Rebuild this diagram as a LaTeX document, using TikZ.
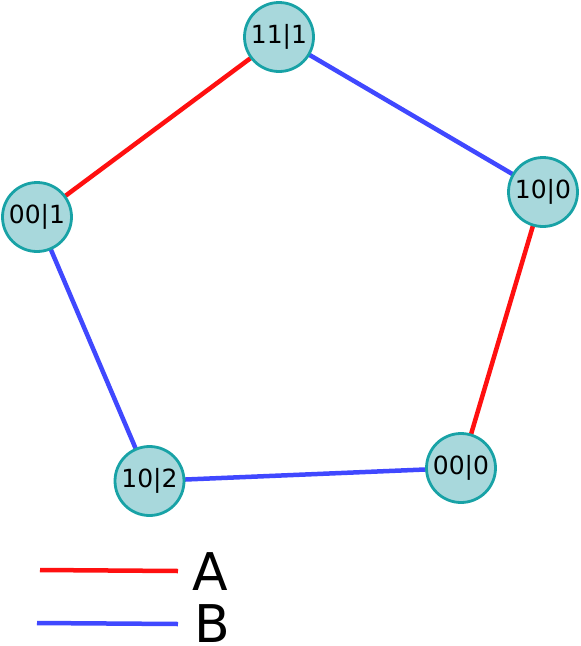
\documentclass[tikz,border=0pt]{standalone}
\usepackage{fontspec}
\setmainfont{DejaVu Sans}
\definecolor{nodefill}{HTML}{A8D8DC}
\definecolor{nodeline}{HTML}{18A2A6}
\definecolor{ered}{HTML}{FF1010}
\definecolor{eblue}{HTML}{4048FF}
\begin{document}
\begin{tikzpicture}[x=1pt,y=-1pt,
  vtx/.style={circle, draw=nodeline, fill=nodefill, line width=2.8pt, minimum size=69pt, inner sep=0pt, font=\fontsize{25}{25}\selectfont},
  redge/.style={draw=ered, line width=4.5pt},
  bedge/.style={draw=eblue, line width=4.5pt},
  legtext/.style={inner sep=0pt, font=\fontsize{52}{52}\selectfont}]
\useasboundingbox (0,0) rectangle (581,646);
\coordinate (ra) at (40,570);
\coordinate (rb) at (178,571);
\coordinate (ba) at (37,623);
\coordinate (bb) at (178,624);
\draw[redge] (ra) -- (rb);
\draw[bedge] (ba) -- (bb);
\node[legtext] (la) at (210,572) {A};
\node[legtext, anchor=base] (lb) at (212,642) {B};
\path (279,37) coordinate (p111);
\path (543,192) coordinate (p100);
\path (37,217) coordinate (p001);
\path (149.5,481) coordinate (p102);
\path (461,468) coordinate (p000);
\draw[redge] (p111) -- (p001);
\draw[bedge] (p111) -- (p100);
\draw[redge] (p100) -- (p000);
\draw[bedge] (p000) -- (p102);
\draw[bedge] (p102) -- (p001);
\node[vtx] (n111) at (p111) {11|1};
\node[vtx] (n100) at (p100) {10|0};
\node[vtx] (n001) at (p001) {00|1};
\node[vtx] (n102) at (p102) {10|2};
\node[vtx] (n000) at (p000) {00|0};
\end{tikzpicture}
\end{document}
